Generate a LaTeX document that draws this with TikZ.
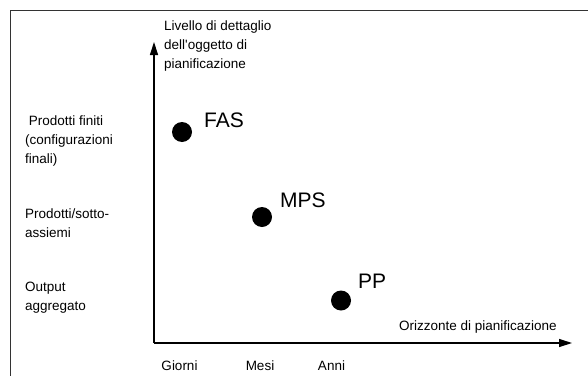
\documentclass[tikz,border=0pt]{standalone}
\usepackage{fontspec}
\setmainfont{Liberation Sans}[Ligatures=TeXOff]
\usetikzlibrary{arrows.meta,positioning,calc}

\begin{document}
\begin{tikzpicture}[x=1pt,y=1pt,font=\fontsize{13.5}{19}\selectfont,
  axis/.style={line width=1.2pt,-{Triangle[length=13pt,width=8pt]}},
  dot/.style={circle,fill=black,minimum size=20pt,inner sep=0pt},
  tag/.style={anchor=base west,inner sep=0pt,font=\fontsize{21}{25}\selectfont},
  lbl/.style={align=left,anchor=base west,inner sep=0pt},
  tick/.style={anchor=base,inner sep=0pt}]
\useasboundingbox (0,0) rectangle (588,376);
% frame (cut at right and bottom)
\draw[line width=0.9pt,black!80] (588,365.5) -- (10,365.5) -- (10,0);
% axes
\coordinate (o) at (154,33);
\coordinate (ytip) at (154,334);
\coordinate (xtip) at (572,33);
\draw[axis] (o) -- (ytip);
\draw[axis] (o) -- (xtip);
\node[lbl] (ylab) at (164,308) {Livello di dettaglio\\dell'oggetto di\\pianificazione};
\node[lbl] (xlab) at (399,46) {Orizzonte di pianificazione};
% levels (anchored on the last line)
\node[lbl] (fin) at (25,213) {\ Prodotti finiti\\(configurazioni\\finali)};
\node[lbl] (sub) at (25,139) {Prodotti/sotto-\\assiemi};
\node[lbl] (agg) at (25,66) {Output\\aggregato};
% horizons
\node[tick] (gio) at (179.5,5.5) {Giorni};
\node[tick] (mes) at (260,5.5) {Mesi};
\node[tick] (ann) at (331.5,5.5) {Anni};
% plans
\node[dot] (fas) at (182,244) {};
\node[dot] (mps) at (262,159) {};
\node[dot] (pp) at (341,75.5) {};
\node[tag] (fasl) at ($(fas)+(22,5)$) {FAS};
\node[tag] (mpsl) at ($(mps)+(18,10)$) {MPS};
\node[tag] (ppl) at ($(pp)+(17,12.5)$) {PP};
\end{tikzpicture}
\end{document}
